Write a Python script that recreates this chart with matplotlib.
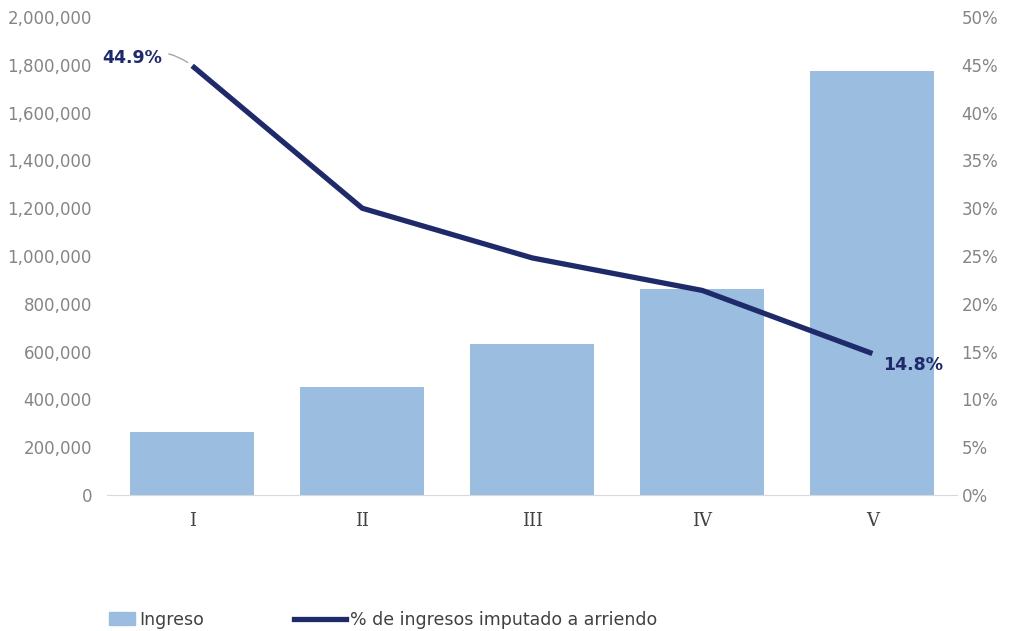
import numpy as np
import matplotlib.pyplot as plt
from matplotlib.ticker import FuncFormatter
from matplotlib.lines import Line2D
from matplotlib.patches import Patch, Rectangle
from matplotlib.legend_handler import HandlerPatch

# Quintiles, income and share of income imputed to rent
quintiles = ["I", "II", "III", "IV", "V"]
ingreso = [264000, 452000, 632000, 862000, 1774000]
pct_arriendo = [44.9, 30.0, 24.8, 21.4, 14.8]

bar_color = "#9bbde0"
line_color = "#1f2a6b"
tick_color = "#858585"

fig = plt.figure(figsize=(10.11, 6.31), dpi=100)
ax = fig.add_axes([0.106, 0.2155, 0.841, 0.7575])
x = np.arange(len(quintiles))

ax.bar(x, ingreso, width=0.73, color=bar_color, zorder=2)
ax.set_xlim(-0.5, 4.5)
ax.set_ylim(0, 2000000)
ax.set_yticks(np.arange(0, 2000001, 200000))
ax.yaxis.set_major_formatter(FuncFormatter(lambda v, p: f"{v:,.0f}"))
ax.set_xticks(x)
ax.set_xticklabels(quintiles, family="DejaVu Serif", fontsize=13, color="#404040")

for s in ["top", "right", "left"]:
    ax.spines[s].set_visible(False)
ax.spines["bottom"].set_color("#d9d9d9")
ax.tick_params(axis="x", length=0, pad=12)
ax.tick_params(axis="y", length=0, labelsize=12, labelcolor=tick_color, pad=11)

ax2 = ax.twinx()
ax2.plot(x, pct_arriendo, color=line_color, lw=3.8, solid_capstyle="butt", zorder=3)
ax2.set_ylim(0, 50)
ax2.set_yticks(np.arange(0, 51, 5))
ax2.yaxis.set_major_formatter(FuncFormatter(lambda v, p: f"{v:.0f}%"))
for s in ax2.spines.values():
    s.set_visible(False)
ax2.tick_params(axis="y", length=0, labelsize=12, labelcolor=tick_color, pad=3)

# Data labels for first and last point
ax2.annotate(f"{pct_arriendo[0]}%", xy=(x[0], pct_arriendo[0]), xytext=(-0.53, 45.7),
             fontsize=12.5, color=line_color, fontweight="bold", ha="left", va="center",
             arrowprops=dict(arrowstyle="-", color="#a6a6a6", lw=1,
                             connectionstyle="arc3,rad=-0.3", shrinkA=3, shrinkB=4))
ax2.annotate(f"{pct_arriendo[-1]}%", xy=(x[-1], pct_arriendo[-1]), xytext=(8, -8),
             textcoords="offset points", fontsize=12.5, color=line_color,
             fontweight="bold", ha="left", va="center")


def short_patch(legend, orig_handle, xdescent, ydescent, width, height, fontsize):
    # square-ish swatch, half the handle length, flush right against the label
    w = width * 0.5
    return Rectangle((width - w - xdescent, -ydescent), w, height)


handles = [Patch(color=bar_color, label="Ingreso"),
           Line2D([0], [0], color=line_color, lw=3.8, label="% de ingresos imputado a arriendo")]
fig.legend(handles=handles, loc="center left", bbox_to_anchor=(0.067, 0.018), ncol=2,
           frameon=False, fontsize=12.5, handlelength=3.0, handletextpad=0.2,
           columnspacing=5.2, labelcolor="#404040",
           handler_map={Patch: HandlerPatch(patch_func=short_patch)})

fig.savefig("out.png", dpi=100)
